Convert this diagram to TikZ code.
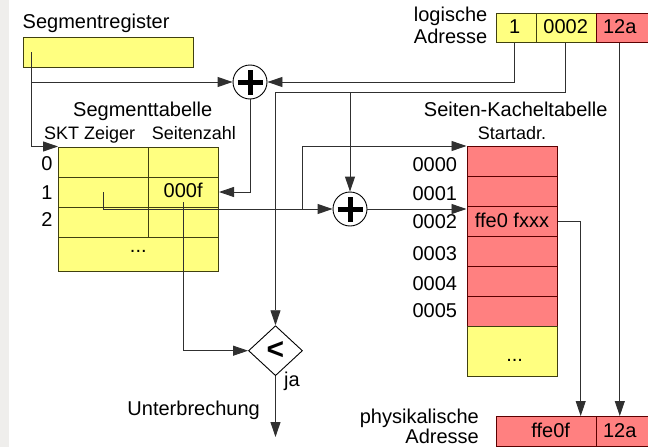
\documentclass[tikz,border=0pt]{standalone}
\usepackage{fontspec}
\setmainfont{Liberation Sans}
\usetikzlibrary{arrows.meta,shapes.geometric,calc}
\definecolor{ylw}{HTML}{FFFF80}
\definecolor{rd}{HTML}{FF8080}
\definecolor{gstrip}{HTML}{EFEEEC}
\definecolor{ybord}{HTML}{404010}
\definecolor{rbord}{HTML}{5A0000}
\definecolor{ln}{HTML}{303030}
\begin{document}
\begin{tikzpicture}[x=1pt,y=-1pt,
  font=\fontsize{20}{24}\selectfont,
  >={Triangle[length=15pt,width=10pt]},
  conn/.style={draw=ln,line width=0.9pt},
  ycell/.style={draw=ybord,fill=ylw,line width=1pt,inner sep=0,anchor=north west},
  rcell/.style={draw=rbord,fill=rd,line width=1pt,inner sep=0,anchor=north west},
  lbl/.style={inner sep=0},
  small/.style={inner sep=0,font=\fontsize{18}{22}\selectfont},
  adder/.style={circle,draw=black,fill=white,line width=0.9pt,minimum size=34pt,inner sep=0,
    path picture={\draw[line width=5pt] ([xshift=-12.5pt]path picture bounding box.center) -- ([xshift=12.5pt]path picture bounding box.center);
                  \draw[line width=5pt] ([yshift=-12.5pt]path picture bounding box.center) -- ([yshift=12.5pt]path picture bounding box.center);}}
]
\useasboundingbox (0,0) rectangle (648,447);
\clip (0,0) rectangle (648,447);
\fill[gstrip] (0,0) rectangle (9,447);

% Segmentregister
\node[lbl,anchor=base west] (tsreg) at (22.5,28.5) {Segmentregister};
\node[ycell,minimum width=170pt,minimum height=30pt] (sreg) at (23,37.3) {};
\coordinate (sregp) at (31,52);

% Segmenttabelle
\node[lbl,anchor=base] (tseg) at (142.7,116) {Segmenttabelle};
\node[small,anchor=base west] (tskt) at (44,139) {SKT Zeiger};
\node[small,anchor=base west] (tsz) at (151.7,139) {Seitenzahl};
\foreach \r in {0,1,2}{
  \node[ycell,minimum width=90pt,minimum height=30pt] (sa\r) at (58,146.5+30*\r) {};
  \node[ycell,minimum width=70pt,minimum height=30pt] (sb\r) at (148,146.5+30*\r) {};
}
\node[ycell,minimum width=160pt,minimum height=34.5pt] (sdots) at (58,236.5) {};
\node[lbl] (tsdots) at (138.3,251) {...};
\node[lbl,anchor=base east] (r0) at (52.7,170) {0};
\node[lbl,anchor=base east] (r1) at (52.7,199) {1};
\node[lbl,anchor=base east] (r2) at (52.7,226.7) {2};
\node[lbl,anchor=base] (t0f) at (183.2,197.3) {000f};

% logical address
\node[lbl,anchor=base east] (tlog1) at (487.5,21.5) {logische};
\node[lbl,anchor=base east] (tlog2) at (487.5,43) {Adresse};
\node[ycell,minimum width=40pt,minimum height=29.6pt] (la1) at (496.3,12.7) {};
\node[ycell,minimum width=60pt,minimum height=29.6pt] (la2) at (536.3,12.7) {};
\node[rcell,minimum width=70pt,minimum height=29.6pt] (la3) at (596.3,12.7) {};
\node[lbl,anchor=base] (tla1) at (514.7,33.3) {1};
\node[lbl,anchor=base] (tla2) at (565.7,33.3) {0002};
\node[lbl,anchor=base] (tla3) at (619.8,33.3) {12a};

% Seiten-Kacheltabelle
\node[lbl,anchor=base] (tskt2) at (515.7,116.7) {Seiten-Kacheltabelle};
\node[small,anchor=base] (tstart) at (512,139.3) {Startadr.};
\foreach \r in {0,...,5}{
  \node[rcell,minimum width=90pt,minimum height=30pt] (pt\r) at (466.5,146+30*\r) {};
}
\node[ycell,minimum width=90pt,minimum height=50pt] (ptdots) at (466.5,326) {};
\node[lbl] (tptdots) at (514.7,360.5) {...};
\node[lbl,anchor=base] (tffe) at (512,227.3) {ffe0 fxxx};
\node[lbl,anchor=base east] (p0) at (457.3,171.5) {0000};
\node[lbl,anchor=base east] (p1l) at (457.3,200) {0001};
\node[lbl,anchor=base east] (p2l) at (457.3,228.5) {0002};
\node[lbl,anchor=base east] (p3l) at (457.3,260) {0003};
\node[lbl,anchor=base east] (p4l) at (457.3,290) {0004};
\node[lbl,anchor=base east] (p5l) at (457.3,317) {0005};

% physical address
\node[lbl,anchor=base east] (tphys1) at (479,423.3) {physikalische};
\node[lbl,anchor=base east] (tphys2) at (479,443.5) {Adresse};
\node[rcell,minimum width=100pt,minimum height=30pt] (pa1) at (496.3,416) {};
\node[rcell,minimum width=70pt,minimum height=30pt] (pa2) at (596.3,416) {};
\node[lbl,anchor=base] (tpa1) at (550.7,437) {ffe0f};
\node[lbl,anchor=base] (tpa2) at (619.8,437) {12a};

% adders and comparator
\node[adder] (add1) at (250,82) {};
\node[adder] (add2) at (350,209) {};
\node[diamond,draw=black,fill=white,line width=0.9pt,minimum width=54pt,minimum height=50pt,aspect=1.08,inner sep=0] (cmp) at (275.5,350.7) {\fontsize{30}{30}\selectfont\bfseries <};
\node[lbl,anchor=base west] (tja) at (284,386) {ja};
\node[lbl,anchor=base east] (tirq) at (260,415) {Unterbrechung};
\coordinate (irq) at (275.5,437);

% connectors
\draw[conn,->] (sregp) |- (sa0.north west);
\draw[conn,->] (sregp |- add1.west) -- (add1.west);
\draw[conn,->] (tla1.base |- la1.south) |- (add1.east);
\draw[conn,->] (add1.south) |- (sb1.east);
\draw[conn] (tla2.base |- la2.south) |- (cmp.north |- 0,92);
\draw[conn,->] (cmp.north |- 0,92) -- (cmp.north);
\draw[conn,->] (add2.north |- 0,92) -- (add2.north);
\draw[conn,->] (sa1.center) |- (add2.west);
\coordinate (j5) at (302,209);
\draw[conn,->] (j5) |- (pt0.north west);
\draw[conn,->] (add2.east) -- (pt2.west |- add2.east);
\draw[conn,->] (pt2.east) -| (pa1.north -| 580.7,0);
\draw[conn,->] (tla3.base |- la3.south) -- (tla3.base |- pa2.north);
\draw[conn,->] ([yshift=-10pt]sb1.center) |- (cmp.west);
\draw[conn,->] (cmp.south) -- (irq);
\end{tikzpicture}
\end{document}
